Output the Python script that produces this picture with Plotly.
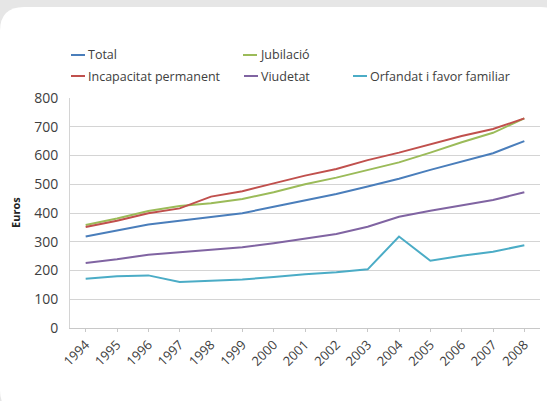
import plotly.graph_objects as go

# Average monthly pension by type (euros), 1994-2008
years = [str(y) for y in range(1994, 2009)]
total = [318, 338, 360, 373, 387, 399, 422, 445, 466, 492, 519, 550, 579, 608, 650]
jubilacio = [358, 381, 407, 424, 434, 449, 472, 500, 523, 550, 576, 610, 646, 679, 729]
incapacitat = [351, 373, 399, 416, 457, 476, 503, 530, 553, 584, 610, 640, 668, 692, 729]
viudetat = [226, 239, 255, 263, 271, 281, 295, 312, 327, 352, 387, 408, 426, 445, 472]
orfandat = [171, 180, 183, 160, 164, 169, 177, 187, 194, 204, 318, 234, 251, 265, 288]

series = [
    ("Total", total, "#4a7ebb"),
    ("Jubilació", jubilacio, "#9bbb59"),
    ("Incapacitat permanent", incapacitat, "#c0504d"),
    ("Viudetat", viudetat, "#8064a2"),
    ("Orfandat i favor familiar", orfandat, "#4bacc6"),
]

W, H = 547, 401
ML, MR, MT, MB = 70, 7, 98, 73
PW, PH = W - ML - MR, H - MT - MB


def px(x):
    return (x - ML) / PW


def py(y):
    return (H - MB - y) / PH


fig = go.Figure()
for name, vals, color in series:
    fig.add_trace(go.Scatter(
        x=years, y=vals, mode="lines", name=name,
        line=dict(color=color, width=2), showlegend=False,
    ))

font = "Open Sans, Lato, sans-serif"
text_color = "#404040"

# white card with rounded corners on a grey page
x0, y0, x1, y1, r = px(0), py(7), px(565), py(414), 24
rx, ry = r / PW, r / PH
card = (
    f"M {x0 + rx} {y0} L {x1 - rx} {y0} Q {x1} {y0} {x1} {y0 - ry} "
    f"L {x1} {y1 + ry} Q {x1} {y1} {x1 - rx} {y1} "
    f"L {x0 + rx} {y1} Q {x0} {y1} {x0} {y1 + ry} "
    f"L {x0} {y0 - ry} Q {x0} {y0} {x0 + rx} {y0} Z"
)
shapes = [dict(type="path", path=card, xref="paper", yref="paper",
               fillcolor="white", line=dict(width=0), layer="below")]

# legend laid out in two rows
legend_pos = [
    (0, 71, 55), (1, 243, 55),
    (2, 71, 76), (3, 244, 76), (4, 353, 76),
]
annotations = []
for idx, lx, ly in legend_pos:
    name, _, color = series[idx]
    shapes.append(dict(type="line", xref="paper", yref="paper",
                       x0=px(lx), x1=px(lx + 14), y0=py(ly), y1=py(ly),
                       line=dict(color=color, width=2)))
    annotations.append(dict(text=name, xref="paper", yref="paper",
                            x=px(lx + 15), y=py(ly), xanchor="left",
                            yanchor="middle", showarrow=False,
                            font=dict(family=font, size=12.5, color=text_color)))

annotations.append(dict(text="<b>Euros</b>", xref="paper", yref="paper",
                        x=px(15), y=py(213), textangle=-90, showarrow=False,
                        xanchor="center", yanchor="middle",
                        font=dict(family=font, size=11, color="#222222")))

fig.update_layout(
    width=W, height=H,
    margin=dict(l=ML, r=MR, t=MT, b=MB),
    paper_bgcolor="#e6e6e6", plot_bgcolor="rgba(0,0,0,0)",
    shapes=shapes, annotations=annotations,
    font=dict(family=font, color=text_color),
)
fig.update_xaxes(
    type="category", range=[-0.5, len(years) - 0.5],
    showgrid=False, showline=True, linecolor="#c8c8c8", linewidth=1,
    ticks="outside", ticklen=3, tickcolor="#c8c8c8",
    tickangle=-45, tickfont=dict(family=font, size=13, color=text_color),
)
fig.update_yaxes(
    range=[0, 800], dtick=100, showgrid=True, gridcolor="#d4d4d4",
    gridwidth=1, showline=True, linecolor="#d4d4d4", zeroline=False,
    ticks="", ticklabelstandoff=8,
    tickfont=dict(family=font, size=14, color=text_color),
)

fig.write_html("out.html")
